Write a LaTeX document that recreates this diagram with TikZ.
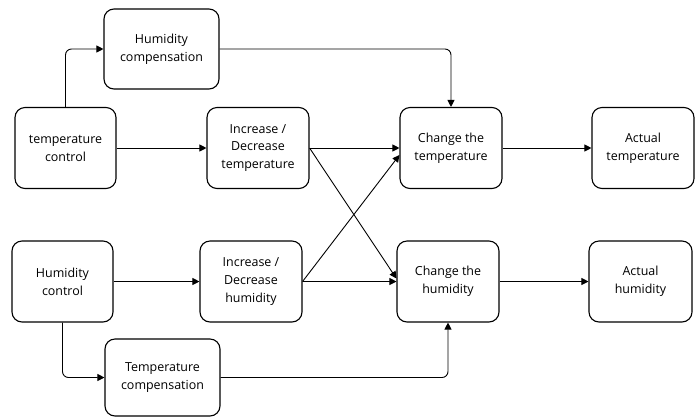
\documentclass[tikz,border=0pt]{standalone}
\usepackage{fontspec}
\setmainfont{Open Sans}
\usetikzlibrary{arrows.meta,calc}
\begin{document}
\begin{tikzpicture}[x=1bp,y=-1bp,
  box/.style={draw, line width=1.1bp, rounded corners=10bp, align=center,
    font=\fontsize{12.5}{18}\selectfont, inner sep=0pt},
  conn/.style={line width=0.9bp, -{Triangle[length=7bp,width=7bp]}, rounded corners=6bp}]
\useasboundingbox (0,0) rectangle (700,417);
\newcommand{\bx}[6]{\node[box, minimum width=#4-#2 bp, minimum height=#5-#3 bp] (#1) at ({(#2+#4)/2},{(#3+#5)/2}) {#6};}
\node[box, minimum width=115bp, minimum height=80bp] (hc) at (161.5,49) {Humidity\\compensation};
\node[box, minimum width=101bp, minimum height=81bp] (tc) at (65.5,148) {temperature\\control};
\node[box, minimum width=102bp, minimum height=81bp] (idt) at (258,148) {Increase /\\Decrease\\temperature};
\node[box, minimum width=102bp, minimum height=81bp] (ct) at (451,148) {Change the\\temperature};
\node[box, minimum width=102bp, minimum height=81bp] (at) at (643,148) {Actual\\temperature};
\node[box, minimum width=101bp, minimum height=81bp] (hcl) at (62.5,281.5) {Humidity\\control};
\node[box, minimum width=102bp, minimum height=81bp] (idh) at (251,281.5) {Increase /\\Decrease\\humidity};
\node[box, minimum width=115bp, minimum height=77bp] (tcp) at (162.5,377.5) {Temperature\\compensation};
\node[box, minimum width=102bp, minimum height=81bp] (ch) at (448,281.5) {Change the\\humidity};
\node[box, minimum width=103bp, minimum height=81bp] (ah) at (640.5,281.5) {Actual\\humidity};
\draw[conn] (tc.north) |- (hc.west);
\draw[conn] (hc.east) -| (ct.north);
\draw[conn] (tc.east) -- (idt.west);
\draw[conn] (idt.east) -- (ct.west);
\draw[conn] (idt.east) -- ($(ch.west)+(0,-3)$);
\draw[conn] (idh.east) -- ($(ct.west)+(0,7)$);
\draw[conn] (hcl.east) -- (idh.west);
\draw[conn] (idh.east) -- (ch.west);
\draw[conn] (hcl.south) |- (tcp.west);
\draw[conn] (tcp.east) -| (ch.south);
\draw[conn] (ct.east) -- (at.west);
\draw[conn] (ch.east) -- (ah.west);
\end{tikzpicture}
\end{document}
